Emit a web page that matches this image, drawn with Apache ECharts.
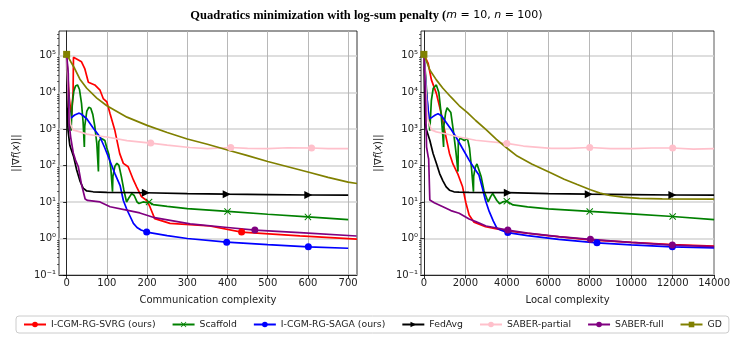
<!DOCTYPE html>
<html>
<head>
<meta charset="utf-8">
<script src="https://cdn.jsdelivr.net/npm/echarts@6/dist/echarts.min.js"></script>
<style>
  html, body { margin: 0; padding: 0; background: #fff; }
  #chart { width: 733px; height: 339px; }
</style>
</head>
<body>
<div id="chart"></div>
<script>
// Legend names, in drawing order
const names = ["I-CGM-RG-SVRG (ours)", "Scaffold", "I-CGM-RG-SAGA (ours)", "FedAvg", "SABER-partial", "SABER-full", "GD"];

// Left panel: communication complexity
const svrgCommX = [0, 6, 12, 16, 17, 37, 45, 54, 70, 83, 91, 100, 108, 120, 132, 141, 153, 166, 174, 186, 199, 207, 219, 257, 356, 435, 580, 722];
const svrgCommY = [1.1e5, 8e3, 2e3, 1e4, 9.2e4, 6.9e4, 4.5e4, 1.9e4, 1.6e4, 1.15e4, 6.8e3, 5.5e3, 2.6e3, 900, 210, 114, 92, 40, 26, 14, 11, 7.4, 3.5, 2.6, 2.2, 1.5, 1.18, 0.96];
const svrgCommMarks = [435];

const scafCommX = [0, 5, 11, 14, 18, 22, 27, 32, 37, 41, 44, 45, 50, 55, 60, 65, 70, 75, 79, 80, 85, 90, 95, 100, 105, 110, 114, 115, 120, 125, 130, 136, 142, 149, 155, 162, 168, 175, 180, 190, 200, 205, 215, 250, 300, 400, 500, 600, 700];
const scafCommY = [1.1e5, 8e3, 900, 5e3, 1.1e4, 1.5e4, 1.6e4, 1.2e4, 5e3, 1.5e3, 320, 1.2e3, 3e3, 3.9e3, 3.7e3, 2.5e3, 1.2e3, 400, 68, 450, 560, 520, 480, 300, 200, 80, 19, 50, 95, 115, 100, 50, 22, 10, 13, 17, 15, 10, 9.1, 10, 9.6, 10, 8.5, 7.6, 6.6, 5.5, 4.6, 3.9, 3.3];
const scafCommMarks = [205, 400, 600];

const sagaCommX = [0, 4, 8, 12, 20, 30, 35, 50, 65, 83, 95, 108, 120, 133, 141, 149, 158, 166, 175, 185, 199, 250, 300, 398, 500, 601, 700];
const sagaCommY = [1.1e5, 1e4, 1.9e3, 1.8e3, 2.4e3, 2.7e3, 2.6e3, 1.9e3, 1.1e3, 600, 300, 130, 60, 28, 11, 6.5, 4, 2.6, 2, 1.7, 1.5, 1.2, 1.0, 0.79, 0.68, 0.59, 0.54];
const sagaCommMarks = [199, 398, 601];

const fedCommX = [0, 1.5, 3.5, 8, 17, 25, 33, 41, 50, 66, 100, 197, 300, 398, 500, 601, 700];
const fedCommY = [1.1e5, 3e3, 900, 350, 180, 75, 38, 24, 20, 19, 18.3, 17.9, 17, 16.3, 15.9, 15.5, 15.3];
const fedCommMarks = [197, 398, 601];

const partCommX = [0, 5, 10, 16, 33, 50, 75, 100, 150, 209, 250, 306, 350, 408, 450, 500, 550, 609, 650, 700];
const partCommY = [1.1e5, 4e3, 1.3e3, 940, 830, 720, 650, 600, 480, 410, 360, 310, 290, 310, 295, 290, 305, 300, 290, 290];
const partCommMarks = [209, 408, 609];

const fullCommX = [0, 4, 6, 10, 16.5, 22, 29, 37, 46, 52, 83, 108, 149, 182, 215, 307, 400, 468, 580, 721];
const fullCommY = [1.1e5, 3.3e4, 1.4e3, 600, 220, 140, 92, 30, 12, 11, 10, 7.4, 6, 5, 3.8, 2.5, 2.0, 1.7, 1.45, 1.17];
const fullCommMarks = [468];

const gdCommX = [0, 10, 20, 33, 50, 75, 100, 150, 200, 250, 300, 350, 400, 450, 500, 550, 600, 650, 700, 722];
const gdCommY = [1.1e5, 7e4, 4.5e4, 2.3e4, 1.3e4, 7e3, 4.3e3, 2.1e3, 1.25e3, 800, 530, 380, 265, 185, 128, 92, 66, 47, 35, 32];
const gdCommMarks = [0];

// Right panel: local complexity
const svrgLocX = [0, 205, 363, 601, 838, 996, 1233, 1400, 1628, 1866, 2024, 2182, 2419, 2972, 4000, 6000, 8000, 10000, 12000, 14000];
const svrgLocY = [1.1e5, 6.2e4, 2.2e4, 9.4e3, 2.6e3, 930, 213, 110, 60, 26, 9.5, 4.4, 2.8, 2.1, 1.6, 1.2, 0.92, 0.78, 0.68, 0.62];
const svrgLocMarks = [];

const scafLocX = [0, 80, 160, 285, 360, 450, 600, 720, 820, 900, 950, 960, 1050, 1120, 1200, 1300, 1420, 1540, 1644, 1660, 1750, 1850, 1950, 2100, 2200, 2300, 2390, 2400, 2480, 2560, 2656, 2760, 2900, 3100, 3220, 3320, 3415, 3520, 3650, 3800, 4000, 4300, 5000, 6000, 8000, 10000, 12000, 14000];
const scafLocY = [1.1e5, 3e4, 6e3, 900, 6e3, 1.3e4, 1.6e4, 1e4, 3e3, 800, 320, 1.2e3, 2.8e3, 3.8e3, 4e3, 2.8e3, 900, 250, 68, 450, 560, 520, 480, 550, 300, 80, 19, 50, 90, 110, 105, 50, 20, 10, 14, 17, 16, 11, 9, 10, 10.5, 8.3, 7.3, 6.5, 5.5, 4.7, 4.0, 3.3];
const scafLocMarks = [4000, 8000, 12000];

const sagaLocX = [0, 120, 250, 400, 550, 680, 850, 1075, 1300, 1550, 1850, 2182, 2420, 2656, 2814, 2972, 3150, 3350, 3526, 3750, 4048, 5000, 6500, 8349, 10000, 11986, 14000];
const sagaLocY = [1.1e5, 1e4, 1.9e3, 2.1e3, 2.4e3, 2.6e3, 2.3e3, 1.5e3, 1e3, 600, 300, 140, 85, 55, 25, 11, 5.5, 3, 1.9, 1.65, 1.45, 1.2, 0.95, 0.76, 0.67, 0.59, 0.55];
const sagaLocMarks = [4048, 8349, 11986];

const fedLocX = [0, 20, 47, 126, 285, 443, 601, 759, 917, 1075, 1233, 1450, 1700, 2182, 4048, 6000, 7953, 10000, 11986, 14000];
const fedLocY = [1.1e5, 2e4, 1.4e3, 930, 490, 213, 115, 60, 38, 26, 21, 19, 18.5, 18.3, 18, 17, 16.3, 15.9, 15.5, 15.3];
const fedLocMarks = [4048, 7953, 11986];

const partLocX = [0, 80, 150, 205, 363, 600, 917, 1700, 2498, 4000, 4800, 6136, 7000, 8000, 9000, 10000, 11000, 12000, 13000, 14000];
const partLocY = [1.1e5, 2e4, 3e3, 1.7e3, 940, 830, 760, 600, 490, 400, 340, 295, 295, 310, 290, 290, 300, 300, 280, 290];
const partLocMarks = [4000, 8000, 12000];

const fullLocX = [0, 60, 128, 205, 230, 285, 500, 917, 1300, 1700, 2182, 2500, 3000, 4048, 5000, 6500, 8032, 10000, 11986, 14000];
const fullLocY = [1.1e5, 2e4, 320, 175, 150, 11.3, 9.5, 7.4, 5.8, 4.9, 3.4, 2.9, 2.2, 1.7, 1.4, 1.12, 0.95, 0.78, 0.66, 0.6];
const fullLocMarks = [4048, 8032, 11986];

const gdLocX = [0, 285, 600, 917, 1300, 1708, 2100, 2498, 3000, 3500, 4000, 4500, 5200, 6136, 6767, 7400, 8032, 8500, 8980, 9600, 10400, 11500, 14000];
const gdLocY = [1.1e5, 4.1e4, 2.2e4, 1.3e4, 7.5e3, 4.3e3, 2.8e3, 1.7e3, 950, 520, 300, 180, 110, 62, 42, 30, 21.5, 17.5, 15, 13.5, 12.6, 12.1, 12];
const gdLocMarks = [0];

// Tick values
const commTicks = [0, 100, 200, 300, 400, 500, 600, 700];
const localTicks = [0, 2000, 4000, 6000, 8000, 10000, 12000, 14000];
const yTicks = [0.1, 1, 10, 100, 1000, 10000, 100000];
const yMinorTicks = [];
[-1, 0, 1, 2, 3, 4, 5].forEach((e) => {
  for (let k = 2; k <= 9; k++) yMinorTicks.push(k * Math.pow(10, e));
});

const colors = ["#ff0000", "#008000", "#0000ff", "#000000", "#ffc0cb", "#800080", "#808000"];
const symbols = [
  "circle",
  "path://M0,1L1,0L5,4L9,0L10,1L6,5L10,9L9,10L5,6L1,10L0,9L4,5Z",
  "circle",
  "path://M0,0L10,5L0,10Z",
  "circle",
  "circle",
  "rect",
];
const symbolSizes = [7, 7, 7, 8, 7, 7, 7];

const commSets = [
  [svrgCommX, svrgCommY, svrgCommMarks],
  [scafCommX, scafCommY, scafCommMarks],
  [sagaCommX, sagaCommY, sagaCommMarks],
  [fedCommX, fedCommY, fedCommMarks],
  [partCommX, partCommY, partCommMarks],
  [fullCommX, fullCommY, fullCommMarks],
  [gdCommX, gdCommY, gdCommMarks],
];
const localSets = [
  [svrgLocX, svrgLocY, svrgLocMarks],
  [scafLocX, scafLocY, scafLocMarks],
  [sagaLocX, sagaLocY, sagaLocMarks],
  [fedLocX, fedLocY, fedLocMarks],
  [partLocX, partLocY, partLocMarks],
  [fullLocX, fullLocY, fullLocMarks],
  [gdLocX, gdLocY, gdLocMarks],
];

const font = "DejaVu Sans";
const sup = { "-": "\u207b", 0: "\u2070", 1: "\u00b9", 2: "\u00b2", 3: "\u00b3", 4: "\u2074", 5: "\u2075" };
const powLabel = (v) => {
  const e = String(Math.round(Math.log10(v)));
  return "10" + e.split("").map((c) => sup[c]).join("");
};

function buildSeries(sets, axisIdx) {
  return sets.map(([xs, ys, marks], i) => ({
    name: names[i],
    type: "line",
    xAxisIndex: axisIdx,
    yAxisIndex: axisIdx * 2,
    symbol: symbols[i],
    symbolSize: symbolSizes[i],
    showSymbol: true,
    color: colors[i],
    lineStyle: { width: 1.7, color: colors[i] },
    itemStyle: { color: colors[i] },
    emphasis: { disabled: true },
    data: xs.map((x, j) => {
      const item = { value: [x, ys[j]] };
      if (!marks.includes(x)) item.symbol = "none";
      return item;
    }),
  }));
}

function xAxis(grid, min, max, ticks, name) {
  return {
    gridIndex: grid,
    type: "value",
    min: min,
    max: max,
    name: name,
    nameLocation: "middle",
    nameGap: 20,
    nameTextStyle: { fontFamily: font, fontSize: 10, color: "#222" },
    axisLine: { show: true, onZero: false, lineStyle: { color: "#000", width: 0.8 } },
    axisTick: { show: true, inside: false, length: 3.5, customValues: ticks, lineStyle: { color: "#000", width: 0.8 } },
    axisLabel: { customValues: ticks, margin: 3, fontFamily: font, fontSize: 10, color: "#222", hideOverlap: false, formatter: (v) => String(v) },
    splitLine: { show: true, lineStyle: { color: "#b0b0b0", width: 0.9 } },
  };
}

function yAxes(grid) {
  return [
    {
      gridIndex: grid,
      type: "log",
      logBase: 10,
      min: 0.1,
      max: 4.8e5,
      name: "||\u2207{i|f}({i|x})||",
      nameLocation: "middle",
      nameRotate: 90,
      nameGap: 38,
      nameTextStyle: { fontFamily: font, fontSize: 10, color: "#222", rich: { i: { fontFamily: font, fontSize: 10, fontStyle: "italic", color: "#222" } } },
      axisLine: { show: true, lineStyle: { color: "#000", width: 0.8 } },
      axisTick: { show: true, length: 3.5, customValues: yTicks, lineStyle: { color: "#000", width: 0.8 } },
      axisLabel: { customValues: yTicks, margin: 3, fontFamily: font, fontSize: 10, color: "#222", formatter: powLabel },
      splitLine: { show: true, lineStyle: { color: "#d3d3d3", width: 1.5 } },
    },
    {
      gridIndex: grid,
      type: "log",
      logBase: 10,
      min: 0.1,
      max: 4.8e5,
      position: "left",
      axisLine: { show: false },
      axisTick: { show: true, length: 2, customValues: yMinorTicks, lineStyle: { color: "#000", width: 0.6 } },
      axisLabel: { show: false },
      splitLine: { show: false },
    },
  ];
}

const chart = echarts.init(document.getElementById("chart"), null, { renderer: "canvas" });

const option = {
  animation: false,
  backgroundColor: "#fff",
  title: {
    text: "{b|Quadratics minimization with log-sum penalty (}{i|m}{r| = 10, }{i|n}{r| = 100)}",
    left: "center",
    top: 4,
    textStyle: {
      fontWeight: "normal",
      rich: {
        b: { fontFamily: "Liberation Serif", fontWeight: "bold", fontSize: 12.5, color: "#000" },
        i: { fontFamily: font, fontStyle: "italic", fontWeight: "normal", fontSize: 11, color: "#000" },
        r: { fontFamily: font, fontWeight: "normal", fontSize: 11, color: "#000" },
      },
    },
  },
  legend: {
    data: names,
    left: 16,
    top: 316,
    orient: "horizontal",
    padding: [4, 7],
    itemGap: 16,
    itemWidth: 22,
    itemHeight: 7,
    borderColor: "#cccccc",
    borderWidth: 1,
    borderRadius: 3,
    textStyle: { fontFamily: font, fontSize: 9.3, color: "#222" },
  },
  grid: [
    { left: 59, top: 31, width: 298, height: 244, show: true, borderColor: "#000", borderWidth: 0.8, backgroundColor: "transparent" },
    { left: 421, top: 31, width: 297, height: 244, show: true, borderColor: "#000", borderWidth: 0.8, backgroundColor: "transparent" },
  ],
  xAxis: [
    xAxis(0, -19, 722, commTicks, "Communication complexity"),
    xAxis(1, -140, 14000, localTicks, "Local complexity"),
  ],
  yAxis: [...yAxes(0), ...yAxes(1)],
  series: [...buildSeries(commSets, 0), ...buildSeries(localSets, 1)],
};

chart.setOption(option);
</script>
</body>
</html>
